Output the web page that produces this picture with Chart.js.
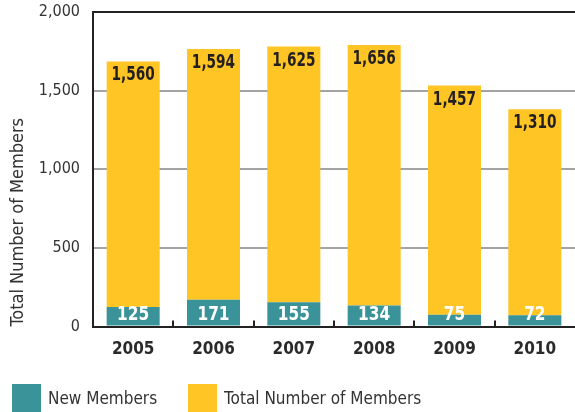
<!DOCTYPE html>
<html>
<head>
<meta charset="utf-8">
<script src="https://cdn.jsdelivr.net/npm/chart.js@4.4.0/dist/chart.umd.min.js"></script>
<style>
  html, body { margin: 0; padding: 0; background: #fff; }
  #wrap { position: relative; width: 575px; height: 412px; }
  #members-chart { position: absolute; left: 0; top: 0; }
  .legend { position: absolute; top: 384px; left: 12px; display: flex; align-items: center;
            font-family: 'DejaVu Sans Condensed', 'Liberation Sans', sans-serif; font-size: 17px; color: #333; }
  .legend span.box { display: inline-block; width: 29px; height: 28px; margin-right: 7px; }
  .legend .item { display: flex; align-items: center; margin-right: 31px; }
</style>
</head>
<body>
<div id="wrap">
  <canvas id="members-chart" width="575" height="412"></canvas>
  <div class="legend">
    <div class="item"><span class="box" style="background:#3a9399"></span>New Members</div>
    <div class="item"><span class="box" style="background:#fec524"></span>Total Number of Members</div>
  </div>
</div>
<script>
/**
 * Chart data
 */
const years = ['2005', '2006', '2007', '2008', '2009', '2010'];
const newMembers = [125, 171, 155, 134, 75, 72];
const totalMembers = [1560, 1594, 1625, 1656, 1457, 1310];
const yTicks = [0, 500, 1000, 1500, 2000];

const fontFamily = "'DejaVu Sans Condensed', 'Liberation Sans', sans-serif";

//draws text squeezed horizontally, the source uses a condensed face
const drawNarrow = (ctx, text, x, y, squeeze) => {
    ctx.save();
    ctx.translate(x, y);
    ctx.scale(squeeze, 1);
    ctx.fillText(text, 0, 0);
    ctx.restore();
};

//value labels drawn on top of the bars
const barLabels = {
    id: 'barLabels',
    afterDatasetsDraw(chart) {
        const ctx = chart.ctx;
        const yScale = chart.scales.y;
        const base = yScale.getPixelForValue(0);
        ctx.save();
        ctx.textAlign = 'center';
        ctx.textBaseline = 'middle';
        ctx.font = 'bold 19px ' + fontFamily;
        chart.getDatasetMeta(1).data.forEach((bar, i) => {
            ctx.fillStyle = '#231f20';
            drawNarrow(ctx, totalMembers[i].toLocaleString('en-US'), bar.x, bar.y + 14, 0.8);
        });
        chart.getDatasetMeta(0).data.forEach((bar, i) => {
            ctx.fillStyle = '#ffffff';
            drawNarrow(ctx, newMembers[i].toString(), bar.x, base - 12, 0.9);
        });
        //small upward ticks between categories on the x axis
        const xScale = chart.scales.x;
        ctx.strokeStyle = '#222';
        ctx.lineWidth = 2;
        for (let i = 0; i < years.length - 1; i++) {
            const x = Math.round((xScale.getPixelForValue(i) + xScale.getPixelForValue(i + 1)) / 2);
            ctx.beginPath();
            ctx.moveTo(x, base);
            ctx.lineTo(x, base - 6);
            ctx.stroke();
        }
        ctx.restore();
    }
};

const membersConfig = {
    type: 'bar',
    data: {
        labels: years,
        datasets: [
            {
                label: 'New Members',
                data: newMembers,
                backgroundColor: '#3a9399',
                barPercentage: 0.66,
                categoryPercentage: 1
            },
            {
                label: 'Total Number of Members',
                data: totalMembers,
                backgroundColor: '#fec524',
                barPercentage: 0.66,
                categoryPercentage: 1
            }
        ]
    },
    options: {
        responsive: false,
        animation: false,
        layout: {
            padding: { top: 0, right: 0, bottom: 47, left: 0 }
        },
        plugins: {
            legend: { display: false },
            tooltip: { enabled: false }
        },
        scales: {
            x: {
                stacked: true,
                grid: { display: false },
                border: { color: '#222', width: 2 },
                ticks: {
                    color: '#2a2a2a',
                    padding: 5,
                    font: { family: fontFamily, size: 17, weight: 'bold' }
                }
            },
            y: {
                stacked: true,
                min: 0,
                max: 2000,
                afterBuildTicks: (scale) => {
                    scale.ticks = yTicks.map(v => ({ value: v }));
                },
                afterFit: (scale) => {
                    scale.width = 93;
                    scale.paddingTop = 12;
                    scale.paddingBottom = 0;
                },
                grid: {
                    drawTicks: false,
                    lineWidth: 2,
                    color: (c) => c.tick.value === 2000 ? '#222' : (c.tick.value === 0 ? 'rgba(0,0,0,0)' : '#a3a3a3')
                },
                border: { color: '#222', width: 2 },
                ticks: {
                    color: '#333',
                    padding: 13,
                    font: { family: fontFamily, size: 16 },
                    callback: (v) => v.toLocaleString('en-US')
                },
                title: {
                    display: true,
                    text: 'Total Number of Members',
                    align: 'start',
                    color: '#333',
                    padding: { top: 8, bottom: 0 },
                    font: { family: fontFamily, size: 18 }
                }
            }
        }
    },
    plugins: [barLabels]
};

const membersChart = new Chart(
    document.getElementById('members-chart'),
    membersConfig
);
</script>
</body>
</html>
